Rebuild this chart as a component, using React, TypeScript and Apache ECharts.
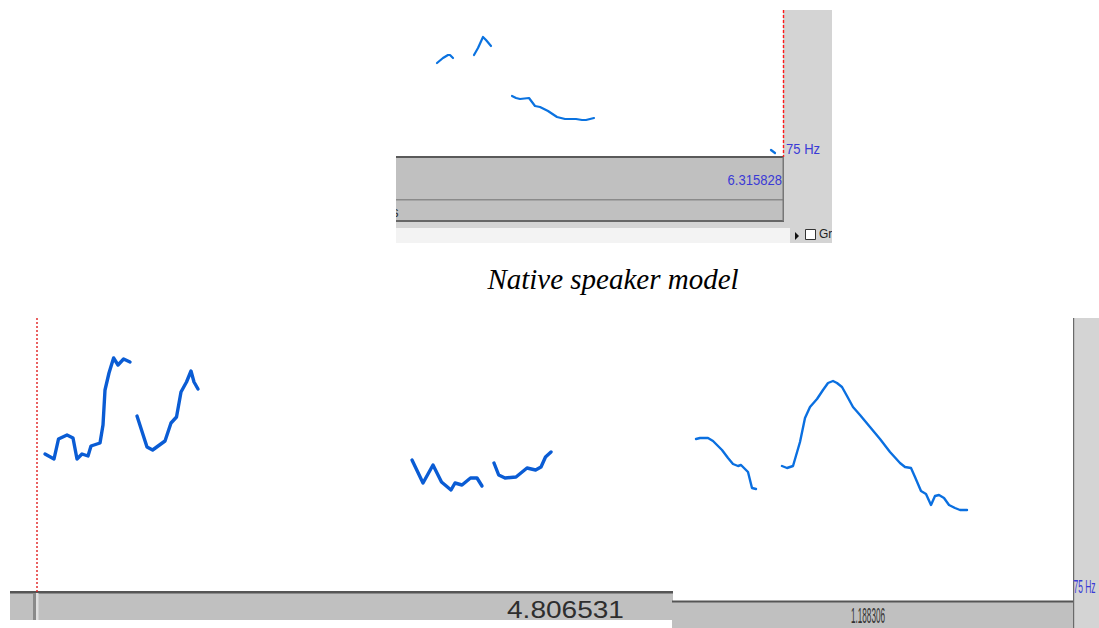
import React, { useEffect, useRef } from "react";
import * as echarts from "echarts";

// Pitch tracks, each point = [time, pitch] in panel units (1 unit = 1 screen px of the panel)
// Top panel (native speaker model)
const topSeg1 = [[41, 94], [47, 99], [52, 102], [54, 102], [57, 99]];
const topSeg2 = [[78, 102], [82, 109], [87, 120], [90, 117], [95, 111]];
const topSeg3 = [[116, 61], [120, 59], [124, 58], [133, 59], [139, 51], [144, 50], [152, 46], [161, 40], [169, 38], [180, 38], [186, 37], [190, 37], [194, 38], [198, 39]];
const topSeg4 = [[375, 7], [379, 4]];

// Bottom-left panel
const blSegA = [[35, 138], [44, 133], [48.5, 153], [57, 157], [63, 154], [67, 133], [72, 138], [78, 136], [81, 146], [90, 149], [93, 167], [95, 202], [99, 219], [103.6, 234], [108, 227], [113.6, 233], [120, 230]];
const blSegB = [[127, 176], [137, 145], [142.6, 142], [155, 151], [161, 169], [166.5, 175], [171, 200], [176.5, 210], [181, 221], [184, 210], [188, 203]];
const blSegC = [[402, 132], [413, 109], [423, 127], [431.5, 110], [441, 102], [445, 109], [452, 107], [460.5, 114], [467, 114], [472, 106]];
const blSegD = [[484, 129], [488.7, 117], [495, 114], [506, 115], [517, 124], [525.6, 122], [531, 125], [535.5, 135], [541, 140]];

// Bottom-right panel
const brSegE = [[24, 162], [28, 163], [36, 163], [41, 160], [50, 151], [56, 143], [61, 137], [66, 135], [69, 136], [72, 133], [76, 129], [80, 113], [84, 112]];
const brSegF = [[110, 135], [115, 133], [121, 135], [128, 159], [133, 183], [138, 194], [145, 202], [151, 211], [156, 218], [161, 220], [165, 218], [170, 214], [175, 205], [181, 194], [188, 186], [198, 174], [208, 162], [218, 149], [228, 138], [233, 134], [239, 133], [243, 124], [249, 110], [254, 107], [259, 96], [263, 105], [267, 106], [272, 103], [277, 96], [283, 93], [288, 91], [295, 91]];

// Labels
const titleText = "Native speaker model";
const topTimeLabel = "6.315828";
const blTimeLabel = "4.806531";
const brTimeLabel = "1.188306";
const floorLabel = "75 Hz";

const BLUE_TXT = "#3a3ad6";

export default function App() {
  const ref = useRef<HTMLDivElement>(null);

  useEffect(() => {
    if (!ref.current) return;
    document.body.style.margin = "0";
    const chart = echarts.init(ref.current, undefined, { renderer: "svg" });

    const grids = [
      { left: 396, top: 10, width: 387, height: 147 },
      { left: 10, top: 318, width: 662, height: 274 },
      { left: 672, top: 318, width: 401, height: 283 },
    ];

    const xAxes = grids.map((g, i) => ({
      type: "value", gridIndex: i, min: 0, max: g.width, show: false,
    }));
    const yAxes = grids.map((g, i) => ({
      type: "value", gridIndex: i, min: 0, max: g.height, show: false,
    }));

    const mk = (data: number[][], idx: number, color: string, width: number) => ({
      type: "line",
      xAxisIndex: idx,
      yAxisIndex: idx,
      data,
      symbol: "none",
      smooth: false,
      lineStyle: { color, width, cap: "round", join: "round" },
      z: 5,
    });

    const series = [
      mk(topSeg1, 0, "#0a72e0", 2.2),
      mk(topSeg2, 0, "#0a72e0", 2.2),
      mk(topSeg3, 0, "#0a72e0", 2.2),
      mk(topSeg4, 0, "#0a72e0", 2.2),
      mk(blSegA, 1, "#0a5cd4", 3.4),
      mk(blSegB, 1, "#0a5cd4", 3.4),
      mk(blSegC, 1, "#0a5cd4", 3.4),
      mk(blSegD, 1, "#0a5cd4", 3.4),
      mk(brSegE, 2, "#0a6fe0", 2.4),
      mk(brSegF, 2, "#0a6fe0", 2.4),
    ];

    const rect = (x: number, y: number, w: number, h: number, fill: string, extra: any = {}) => ({
      type: "rect", shape: { x, y, width: w, height: h }, style: { fill }, z: extra.z ?? 1, silent: true,
    });
    const txt = (x: number, y: number, text: string, o: any) => ({
      type: "text", x, y, scaleX: o.scaleX ?? 1, z: o.z ?? 3, silent: true,
      style: {
        text, fill: o.fill, fontSize: o.fontSize, fontFamily: o.fontFamily ?? "Liberation Sans",
        fontStyle: o.fontStyle ?? "normal", align: o.align ?? "left", verticalAlign: "middle",
      },
    });

    const graphic = [
      // ---- top panel ----
      rect(783, 10, 49, 212, "#d4d4d4"),
      rect(396, 157, 387, 64, "#c0c0c0"),
      rect(396, 156, 388, 2, "#5a5a5a"),
      rect(396, 199, 387, 1.5, "#8a8a8a"),
      rect(396, 220, 388, 2, "#666666"),
      rect(396, 222, 436, 6, "#d4d4d4"),
      rect(396, 228, 394, 15, "#f3f3f3"),
      rect(790, 228, 42, 15, "#d4d4d4"),
      rect(782.5, 157, 1.5, 64, "#777777"),
      { type: "polygon", shape: { points: [[795, 232], [795, 240], [799, 236]] }, style: { fill: "#111" }, z: 3, silent: true },
      { type: "rect", shape: { x: 805.5, y: 229.5, width: 10, height: 10 }, style: { fill: "#ffffff", stroke: "#333", lineWidth: 1 }, z: 3, silent: true },
      txt(819, 234, "Gro", { fill: "#222", fontSize: 12 }),
      rect(832, 222, 20, 24, "#ffffff", { z: 4 }),
      txt(392, 212, "s", { fill: "#333", fontSize: 15, scaleX: 0.87 }),
      rect(370, 200, 26, 22, "#ffffff", { z: 4 }),
      { type: "line", shape: { x1: 783.5, y1: 10, x2: 783.5, y2: 157 }, style: { stroke: "#ff1a1a", lineWidth: 1.4, lineDash: [3, 2] }, z: 6, silent: true },
      txt(786, 149, floorLabel, { fill: BLUE_TXT, fontSize: 15, scaleX: 0.87 }),
      txt(782, 179.5, topTimeLabel, { fill: BLUE_TXT, fontSize: 15, scaleX: 0.87, align: "right" }),

      // ---- title ----
      txt(613, 279, titleText, { fill: "#000", fontSize: 29, fontFamily: "Liberation Serif", fontStyle: "italic", align: "center" }),

      // ---- bottom-left panel ----
      rect(10, 592, 663, 28, "#c0c0c0"),
      rect(10, 591, 663, 2.5, "#555555"),
      rect(33, 593, 3, 27, "#8a8a8a"),
      rect(36, 593, 2.5, 27, "#e0e0e0"),
      { type: "line", shape: { x1: 37, y1: 318, x2: 37, y2: 592 }, style: { stroke: "#e02020", lineWidth: 1.4, lineDash: [2, 2] }, z: 6, silent: true },
      txt(507, 609.5, blTimeLabel, { fill: "#2e2e2e", fontSize: 23, scaleX: 1.22 }),

      // ---- bottom-right panel ----
      rect(672, 601, 401, 27, "#c0c0c0"),
      rect(672, 600.5, 401, 2, "#555555"),
      rect(1074, 318, 25, 310, "#d4d4d4"),
      rect(1073, 318, 1.2, 310, "#6a6a6a"),
      txt(868, 615.5, brTimeLabel, { fill: "#333", fontSize: 22, scaleX: 0.37, align: "center" }),
      txt(1073.5, 587, floorLabel, { fill: BLUE_TXT, fontSize: 18, scaleX: 0.47 }),
    ];

    chart.setOption({
      animation: false,
      backgroundColor: "#ffffff",
      grid: grids.map((g) => ({ ...g, containLabel: false, show: false })),
      xAxis: xAxes,
      yAxis: yAxes,
      series,
      graphic,
      tooltip: { show: false },
    } as any);

    return () => chart.dispose();
  }, []);

  return (
    <div
      ref={ref}
      style={{ position: "absolute", left: 0, top: 0, width: 1099, height: 628 }}
    />
  );
}
